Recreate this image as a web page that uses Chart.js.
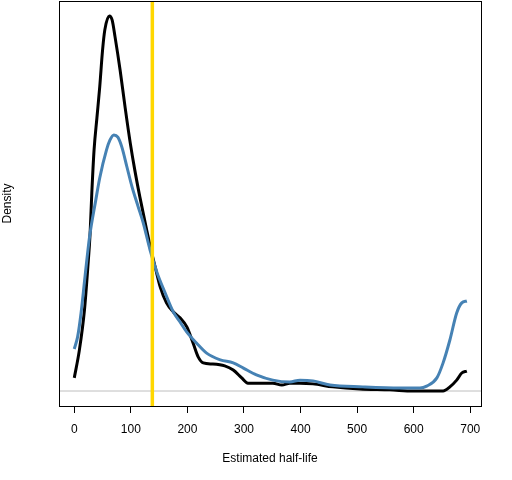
<!DOCTYPE html>
<html>
<head>
<meta charset="utf-8">
<script src="https://cdn.jsdelivr.net/npm/chart.js@4/dist/chart.umd.min.js"></script>
<style>
  html, body { margin: 0; padding: 0; background: #fff; }
  #wrap { width: 512px; height: 480px; }
</style>
</head>
<body>
<div id="wrap"><canvas id="densityChart" width="512" height="480"></canvas></div>
<script>
// x tick labels (estimated half-life)
const xTicks = [0, 100, 200, 300, 400, 500, 600, 700];

// density of the first estimate (black)
const blackX = [0, 9, 18, 24, 28, 31, 35, 40, 45, 50, 54, 62, 67, 72, 81, 90, 99, 107, 116,
  128, 137, 143, 152, 163, 175, 187, 199, 210, 219, 228, 245, 266, 281, 296, 307, 322,
  351, 367, 381, 399, 422, 457, 505, 558, 599, 652, 664, 676, 685, 694];
const blackY = [0.035, 0.109, 0.216, 0.331, 0.421, 0.528, 0.643, 0.728, 0.811, 0.909, 0.963,
  1.0, 0.989, 0.945, 0.856, 0.755, 0.661, 0.589, 0.517, 0.429, 0.368, 0.331, 0.277, 0.235,
  0.211, 0.195, 0.171, 0.128, 0.091, 0.075, 0.072, 0.067, 0.056, 0.035, 0.021, 0.021,
  0.021, 0.016, 0.021, 0.021, 0.019, 0.011, 0.005, 0.003, 0.0, 0.0, 0.011, 0.029, 0.048, 0.053];

// density of the second estimate (blue)
const blueX = [0, 6, 12, 19, 27, 38, 45, 57, 63, 70, 77, 84, 93, 102, 113, 122, 134, 146, 160,
  175, 187, 199, 216, 234, 258, 281, 299, 322, 351, 381, 399, 422, 452, 510, 576, 611,
  623, 641, 652, 664, 676, 685, 694];
const blueY = [0.112, 0.145, 0.208, 0.305, 0.411, 0.509, 0.568, 0.643, 0.669, 0.683, 0.677,
  0.651, 0.598, 0.545, 0.491, 0.448, 0.376, 0.317, 0.264, 0.211, 0.184, 0.157, 0.128, 0.101,
  0.083, 0.075, 0.061, 0.043, 0.029, 0.024, 0.029, 0.027, 0.016, 0.011, 0.008, 0.008,
  0.013, 0.035, 0.075, 0.136, 0.208, 0.235, 0.24];

// reference value marked by the vertical line
const markerX = 138;

const xMin = -27, xMax = 719;
const yMin = -0.04, yMax = 1.04;

const toPoints = (xs, ys) => xs.map((x, i) => ({ x, y: ys[i] }));

const boxPlugin = {
  id: 'box',
  afterDraw(chart) {
    const { ctx, chartArea: a } = chart;
    ctx.save();
    ctx.strokeStyle = '#000';
    ctx.lineWidth = 1;
    ctx.strokeRect(a.left + 0.5, a.top + 0.5, a.right - a.left, a.bottom - a.top);
    ctx.restore();
  }
};

new Chart(document.getElementById('densityChart').getContext('2d'), {
  type: 'line',
  data: {
    datasets: [
      {
        label: 'zero',
        data: [{ x: xMin, y: 0 }, { x: xMax, y: 0 }],
        borderColor: '#bebebe',
        borderWidth: 1,
        pointRadius: 0,
        order: 3
      },
      {
        label: 'estimate 1',
        data: toPoints(blackX, blackY),
        borderColor: '#000000',
        borderWidth: 3,
        pointRadius: 0,
        cubicInterpolationMode: 'monotone',
        order: 2
      },
      {
        label: 'estimate 2',
        data: toPoints(blueX, blueY),
        borderColor: '#4682b4',
        borderWidth: 3,
        pointRadius: 0,
        cubicInterpolationMode: 'monotone',
        order: 1
      },
      {
        label: 'marker',
        data: [{ x: markerX, y: yMin }, { x: markerX, y: yMax }],
        borderColor: '#ffd700',
        borderWidth: 3.5,
        pointRadius: 0,
        order: 0
      }
    ]
  },
  options: {
    responsive: false,
    animation: false,
    devicePixelRatio: 1,
    layout: { padding: { top: 1, right: 31, left: 0, bottom: 0 } },
    plugins: { legend: { display: false }, tooltip: { enabled: false } },
    scales: {
      x: {
        type: 'linear',
        min: xMin,
        max: xMax,
        afterBuildTicks: s => { s.ticks = xTicks.map(v => ({ value: v })); },
        afterFit: s => { s.height = 74; },
        grid: { drawOnChartArea: false, drawTicks: true, tickLength: 7, color: '#000' },
        border: { display: false },
        ticks: {
          autoSkip: false,
          maxRotation: 0,
          padding: 9,
          color: '#000',
          font: { family: 'Liberation Sans, Arial, sans-serif', size: 12 }
        },
        title: {
          display: true,
          text: 'Estimated half-life',
          color: '#000',
          padding: { top: 0, bottom: 14 },
          font: { family: 'Liberation Sans, Arial, sans-serif', size: 12 }
        }
      },
      y: {
        type: 'linear',
        min: yMin,
        max: yMax,
        afterFit: s => { s.width = 59; },
        grid: { display: false },
        border: { display: false },
        ticks: { display: false },
        title: {
          display: true,
          text: 'Density',
          color: '#000',
          padding: 0,
          font: { family: 'Liberation Sans, Arial, sans-serif', size: 12 }
        }
      }
    }
  },
  plugins: [boxPlugin]
});
</script>
</body>
</html>
